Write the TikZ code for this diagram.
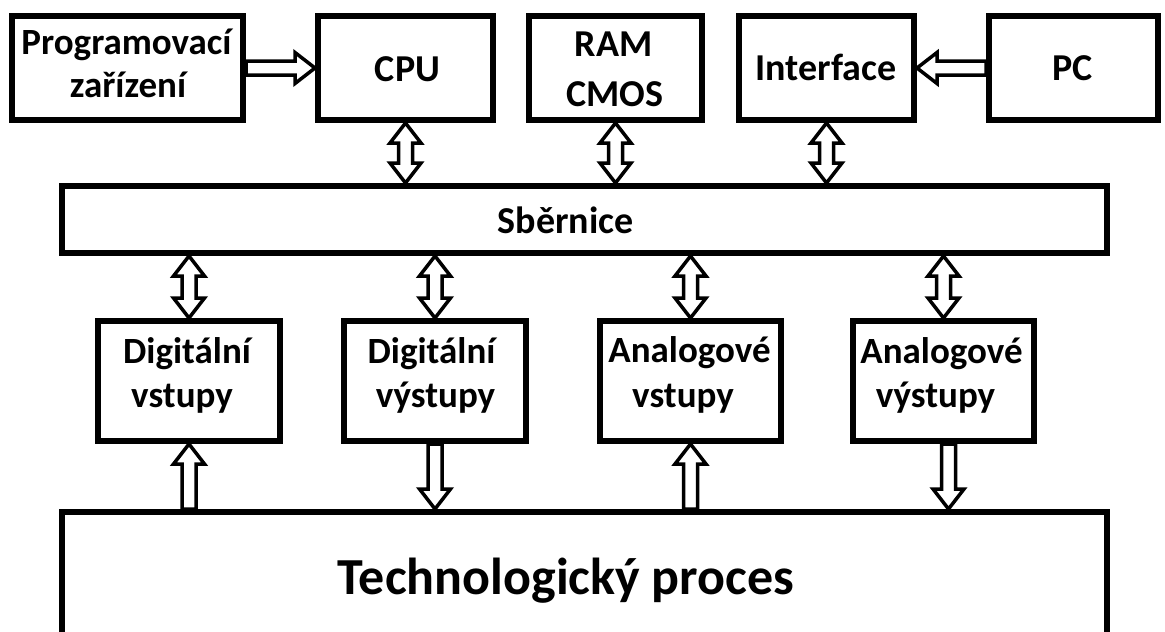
\documentclass[tikz,border=0pt]{standalone}
\usepackage{fontspec}
\setmainfont{Carlito}
\usetikzlibrary{calc}

% half widths and head length of the hollow block arrows
\newcommand\fatw{7pt}
\newcommand\fathw{15.5pt}
\newcommand\fathl{20pt}

\tikzset{
  box/.style={draw=black, line width=6pt, fill=white, inner sep=0pt},
  lbl/.style={font=\bfseries\fontsize{38}{44}\selectfont, inner sep=0pt, anchor=base},
  lbls/.style={lbl, font=\bfseries\fontsize{37}{44}\selectfont},
  fatarrow/.style={draw=black, fill=white, line width=3.5pt, line join=miter, miter limit=4},
}

% hollow arrow from #1 with its tip at #2
\newcommand\fatsingle[2]{%
  \coordinate (fa-a) at (#1);
  \coordinate (fa-b) at (#2);
  \coordinate (fa-hb) at ($(fa-b)!\fathl!(fa-a)$);
  \filldraw[fatarrow] ($(fa-a)!\fatw!90:(fa-b)$) -- ($(fa-hb)!\fatw!90:(fa-b)$)
    -- ($(fa-hb)!\fathw!90:(fa-b)$) -- (fa-b) -- ($(fa-hb)!\fathw!-90:(fa-b)$)
    -- ($(fa-hb)!\fatw!-90:(fa-b)$) -- ($(fa-a)!\fatw!-90:(fa-b)$) -- cycle;
}

% hollow arrow with tips at both ends
\newcommand\fatdouble[2]{%
  \coordinate (fa-a) at (#1);
  \coordinate (fa-b) at (#2);
  \coordinate (fa-ha) at ($(fa-a)!\fathl!(fa-b)$);
  \coordinate (fa-hb) at ($(fa-b)!\fathl!(fa-a)$);
  \filldraw[fatarrow] (fa-a) -- ($(fa-ha)!\fathw!90:(fa-b)$) -- ($(fa-ha)!\fatw!90:(fa-b)$)
    -- ($(fa-hb)!\fatw!90:(fa-b)$) -- ($(fa-hb)!\fathw!90:(fa-b)$) -- (fa-b)
    -- ($(fa-hb)!\fathw!-90:(fa-b)$) -- ($(fa-hb)!\fatw!-90:(fa-b)$)
    -- ($(fa-ha)!\fatw!-90:(fa-b)$) -- ($(fa-ha)!\fathw!-90:(fa-b)$) -- cycle;
}

\begin{document}
\begin{tikzpicture}[x=1pt, y=-1pt]
  \useasboundingbox (0,0) rectangle (1165,632);
  \clip (0,0) rectangle (1165,632);
  \fill[white] (0,0) rectangle (1165,632);

  % top row
  \node[box, minimum width=231pt, minimum height=104pt] (prog)  at (127.5,68) {};
  \node[box, minimum width=175pt, minimum height=104pt] (cpu)   at (405.5,68) {};
  \node[box, minimum width=173pt, minimum height=104pt] (ram)   at (615.5,68) {};
  \node[box, minimum width=175pt, minimum height=104pt] (iface) at (826.5,68) {};
  \node[box, minimum width=169pt, minimum height=104pt] (pc)    at (1073.5,68) {};

  % bus
  \node[box, minimum width=1045pt, minimum height=67pt] (bus) at (584.5,219.5) {};

  % I/O modules
  \node[box, minimum width=182pt, minimum height=120pt] (dv)  at (189,381) {};
  \node[box, minimum width=182pt, minimum height=120pt] (dvy) at (435,381) {};
  \node[box, minimum width=181pt, minimum height=120pt] (av)  at (690.5,381) {};
  \node[box, minimum width=181pt, minimum height=120pt] (avy) at (943.5,381) {};

  % process
  \node[box, minimum width=1045pt, minimum height=185pt] (tech) at (584.5,604.5) {};

  % labels
  \node[lbls] (t-prog1) at (126.5,54) {Programovací};
  \node[lbls] (t-prog2) at (128,97) {zařízení};
  \node[lbl] (t-cpu) at (407.5,81) {CPU};
  \node[lbl] (t-ram1) at (613.5,56) {RAM};
  \node[lbl] (t-ram2) at (614.5,106) {CMOS};
  \node[lbl] (t-iface) at (826,80) {Interface};
  \node[lbl] (t-pc) at (1072.5,80) {PC};
  \node[lbl] (t-bus) at (565.5,233) {Sběrnice};
  \node[lbls] (t-dv1) at (187,363) {Digitální};
  \node[lbls] (t-dv2) at (182,407) {vstupy};
  \node[lbls] (t-dvy1) at (431.5,363) {Digitální};
  \node[lbls] (t-dvy2) at (435.5,407) {výstupy};
  \node[lbls] (t-av1) at (689.5,362) {Analogové};
  \node[lbls] (t-av2) at (683,407) {vstupy};
  \node[lbls] (t-avy1) at (941.5,363) {Analogové};
  \node[lbls] (t-avy2) at (935.5,407) {výstupy};
  \node[lbl, font=\bfseries\fontsize{52}{60}\selectfont] (t-tech) at (566,594) {Technologický proces};

  % connections
  \fatsingle{prog.east}{cpu.west}
  \fatsingle{pc.west}{iface.east}
  \fatdouble{cpu.south}{cpu.south |- bus.north}
  \fatdouble{ram.south}{ram.south |- bus.north}
  \fatdouble{iface.south}{iface.south |- bus.north}
  \fatdouble{dv.north |- bus.south}{dv.north}
  \fatdouble{dvy.north |- bus.south}{dvy.north}
  \fatdouble{av.north |- bus.south}{av.north}
  \fatdouble{avy.north |- bus.south}{avy.north}
  \fatsingle{dv.south |- tech.north}{dv.south}
  \fatsingle{dvy.south}{dvy.south |- tech.north}
  \fatsingle{av.south |- tech.north}{av.south}
  \coordinate (avy-out) at ([xshift=5pt]avy.south);
  \fatsingle{avy-out}{avy-out |- tech.north}
\end{tikzpicture}
\end{document}
